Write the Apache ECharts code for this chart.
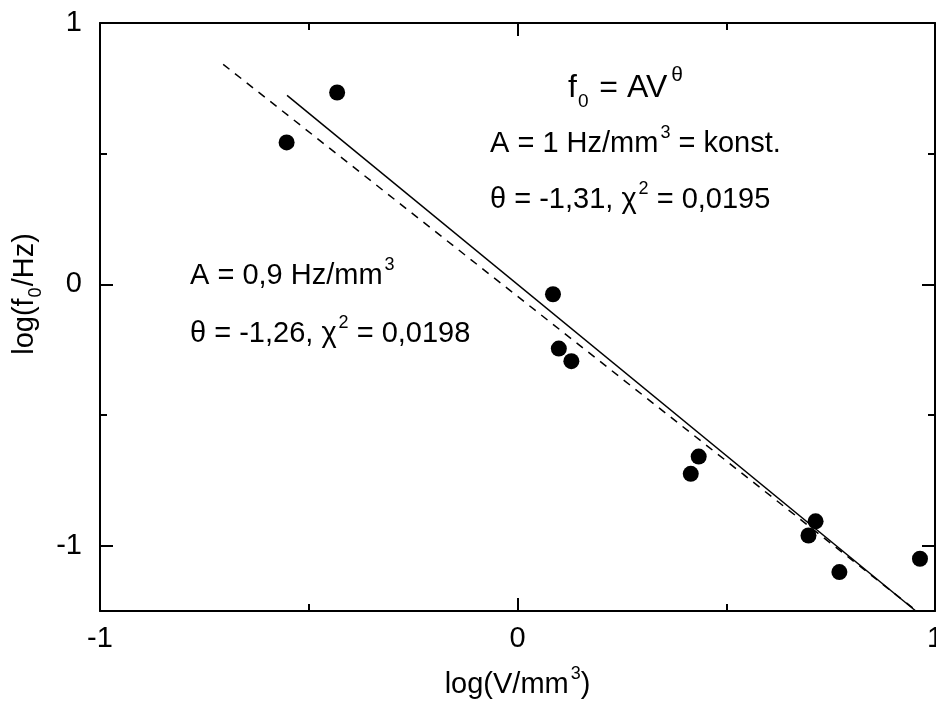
<!DOCTYPE html>
<html><head><meta charset="utf-8">
<script src="https://cdn.jsdelivr.net/npm/echarts@6/dist/echarts.min.js"></script>
<style>html,body{margin:0;padding:0;background:#fff;overflow:hidden;width:936px;height:704px}#c{position:absolute;left:0;top:0;width:936px;height:704px}</style>
</head><body><div id="c"></div>
<script>
// measured points: log(V/mm^3) vs log(f0/Hz)
const logV = [-0.553, -0.432, 0.085, 0.099, 0.129, 0.415, 0.434, 0.697, 0.714, 0.771, 0.964];
const logF = [0.543, 0.734, -0.038, -0.246, -0.294, -0.725, -0.659, -0.961, -0.907, -1.101, -1.050];
// fit lines (endpoints)
const fitSolidX = [-0.552, 0.954];
const fitSolidY = [0.723, -1.25];
const fitDashX = [-0.705, 0.956];
const fitDashY = [0.842, -1.25];
// ticks
const xTicks = [-1, 0, 1];
const yTicks = [-1, 0, 1];
const yMinorTicks = [-0.5, 0.5];

const FONT = "'Liberation Sans', Arial, sans-serif";
const FS = 29;
const pts = logV.map((v, i) => [v, logF[i]]);
const solid = fitSolidX.map((v, i) => [v, fitSolidY[i]]);
const dash = fitDashX.map((v, i) => [v, fitDashY[i]]);

const lineStyle = { color: '#000', width: 2 };
function xAx(pos, labels) {
  return {
    type: 'value', position: pos, min: -1, max: 1, interval: 1,
    axisLine: { show: true, onZero: false, lineStyle },
    axisTick: { show: true, inside: true, length: 13, lineStyle },
    minorTick: { show: true, splitNumber: 2, length: 7, lineStyle },
    splitLine: { show: false },
    axisLabel: { show: labels, margin: 13, fontSize: FS, color: '#000', fontFamily: FONT,
      customValues: xTicks, showMinLabel: true, showMaxLabel: true, hideOverlap: false }
  };
}
function yAx(pos, labels, line, ticks, len) {
  return {
    type: 'value', position: pos, min: -1.25, max: 1,
    axisLine: { show: line, onZero: false, lineStyle },
    axisTick: { show: true, inside: true, length: len, lineStyle, customValues: ticks },
    splitLine: { show: false },
    axisLabel: { show: labels, margin: 18, fontSize: FS, color: '#000', fontFamily: FONT,
      customValues: yTicks }
  };
}
const main = { fontSize: FS, fontFamily: FONT, color: '#000', lineHeight: 40, verticalAlign: 'middle' };
const sup = { fontSize: 18, fontFamily: FONT, color: '#000', lineHeight: 14, verticalAlign: 'top', padding: [0, 0, 0, 2] };
const sub = { fontSize: 18, fontFamily: FONT, color: '#000', lineHeight: 14, verticalAlign: 'bottom', padding: [0, 1, 0, 1] };
const richAll = { n: main, p: sup, b: sub };

const yAxes = [
  yAx('left', true, true, yTicks, 13),
  yAx('left', false, false, yMinorTicks, 7),
  yAx('right', false, true, yTicks, 13),
  yAx('right', false, false, yMinorTicks, 7)
];
yAxes[0].name = '{n|log(f}{b|0}{n|/Hz)}';
yAxes[0].nameLocation = 'middle';
yAxes[0].nameRotate = 90;
yAxes[0].nameGap = 49;
yAxes[0].nameTextStyle = { rich: richAll, padding: [0, 0, 0, 46] };

const xAxes = [xAx('bottom', true), xAx('top', false)];
xAxes[0].name = '{n|log(V/mm}{p|3}{n|)}';
xAxes[0].nameLocation = 'middle';
xAxes[0].nameGap = 54;
xAxes[0].nameTextStyle = { rich: richAll };

function txt(text, x, y, rich) {
  return { type: 'text', x: x, y: y, style: { text: text, rich: rich, fill: '#000', align: 'left', verticalAlign: 'middle' } };
}
const bigRich = {
  n: Object.assign({}, main, { fontSize: 32, lineHeight: 46 }),
  p: Object.assign({}, sup, { fontSize: 21, lineHeight: 18, padding: [0, 0, 0, 4] }),
  b: Object.assign({}, sub, { fontSize: 19, lineHeight: 14, padding: [0, 2, 0, 1] })
};

const chart = echarts.init(document.getElementById('c'), null, { renderer: 'canvas', width: 936, height: 704 });
chart.setOption({
  backgroundColor: '#fff',
  animation: false,
  grid: { left: 100, right: 1, top: 23, bottom: 93, containLabel: false, outerBoundsMode: 'none' },
  xAxis: xAxes,
  yAxis: yAxes,
  series: [
    { type: 'scatter', data: pts, symbol: 'circle', symbolSize: 16, itemStyle: { color: '#000', opacity: 1 }, z: 3 },
    { type: 'line', data: solid, showSymbol: false, symbol: 'none', lineStyle: { color: '#000', width: 1.5 }, z: 2 },
    { type: 'line', data: dash, showSymbol: false, symbol: 'none', lineStyle: { color: '#000', width: 1.5, type: [8, 7] }, z: 2 }
  ],
  graphic: [
    txt('{n|f}{b|0}{n| = AV}{p|θ}', 568, 88, bigRich),
    txt('{n|A = 1 Hz/mm}{p|3}{n| = konst.}', 490, 144, richAll),
    txt('{n|θ = -1,31, χ}{p|2}{n| = 0,0195}', 490, 200, richAll),
    txt('{n|A = 0,9 Hz/mm}{p|3}', 190, 276, richAll),
    txt('{n|θ = -1,26, χ}{p|2}{n| = 0,0198}', 190, 334, richAll)
  ]
});
</script>
</body></html>
